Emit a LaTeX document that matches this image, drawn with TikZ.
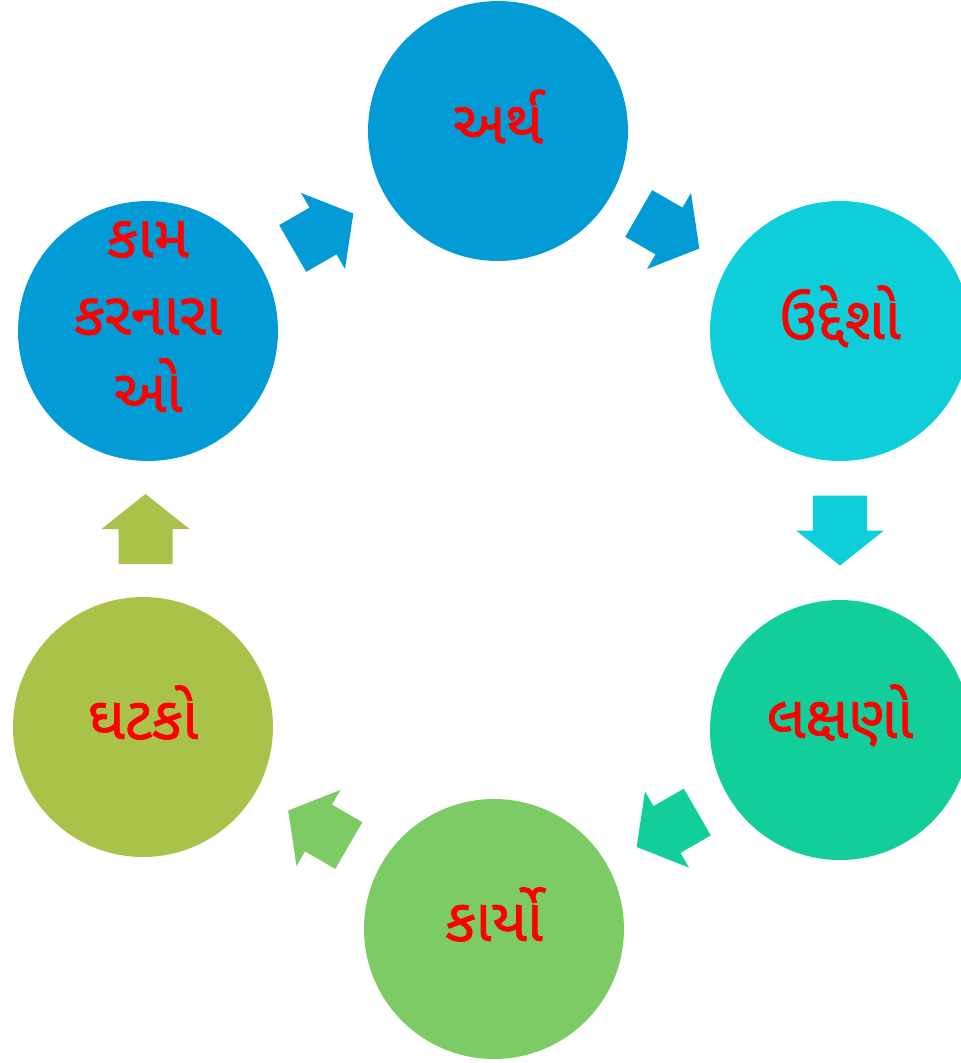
\documentclass[tikz,border=0pt]{standalone}
\usepackage{fontspec}
\newfontfamily\gujfont[Script=Gujarati,FakeBold=1.2]{Noto Sans Gujarati UI}
\usetikzlibrary{calc}
\definecolor{blueA}{RGB}{3,155,214}
\definecolor{cyanB}{RGB}{13,206,217}
\definecolor{tealC}{RGB}{18,206,154}
\definecolor{greenD}{RGB}{125,203,101}
\definecolor{oliveE}{RGB}{169,194,74}

\begin{document}
\begin{tikzpicture}[
	x=0.02cm,y=-0.02cm,
	stage/.style={circle,minimum size=5.2cm,inner sep=0pt},
	word/.style={text=red,align=center,yshift=0.29cm,
		font=\gujfont\fontsize{34}{44}\selectfont},
	blockarrow/.pic={\fill[#1] (-35,-27) -- (0,-27) -- (0,-44) -- (35,0) -- (0,44) -- (0,27) -- (-35,27) -- cycle;},
	]
	\useasboundingbox (0,0) rectangle (961,1063);
	\node [stage,fill=blueA,label={[word]center:અર્થ}] (artha) at (498,131) {};
	\node [stage,fill=cyanB,label={[word]center:ઉદ્દેશો}] (uddesh) at (840,331) {};
	\node [stage,fill=tealC,label={[word]center:લક્ષણો}] (lakshan) at (840,730) {};
	\node [stage,fill=greenD,label={[word]center:કાર્યો}] (karyo) at (494,929) {};
	\node [stage,fill=oliveE,label={[word]center:ઘટકો}] (ghatak) at (143,727) {};
	\node [stage,fill=blueA,label={[word]center:કામ\\કરનારા\\ઓ}] (kamkar) at (148,331) {};
	\pic [rotate=30] at ($(kamkar)!0.5!(artha)$) {blockarrow=blueA};
	\pic [rotate=-30] at ($(artha)!0.5!(uddesh)$) {blockarrow=blueA};
	\pic [rotate=-90] at ($(uddesh)!0.5!(lakshan)$) {blockarrow=cyanB};
	\pic [rotate=210] at ($(lakshan)!0.5!(karyo)$) {blockarrow=tealC};
	\pic [rotate=150] at ($(karyo)!0.5!(ghatak)$) {blockarrow=greenD};
	\pic [rotate=90] at ($(ghatak)!0.5!(kamkar)$) {blockarrow=oliveE};
\end{tikzpicture}
\end{document}
